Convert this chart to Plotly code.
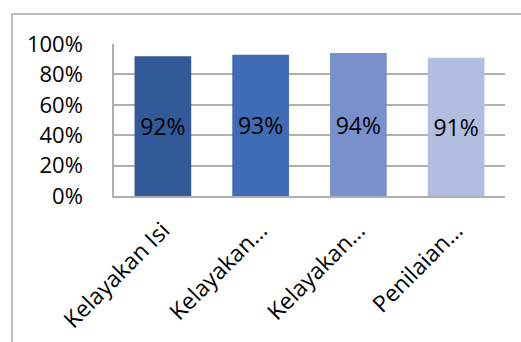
import plotly.graph_objects as go

categories = ["Kelayakan Isi", "Kelayakan…", "Kelayakan…", "Penilaian…"]
values = [0.92, 0.93, 0.94, 0.91]
labels = ["92%", "93%", "94%", "91%"]
colors = ["#325A98", "#3F6BB7", "#7891CD", "#B2BEDF"]
xpos = [0, 1, 2, 3]
ytickvals = [0, 0.2, 0.4, 0.6, 0.8, 1.0]
yticktext = ["0%", "20%", "40%", "60%", "80%", "100%"]

FONT = "Open Sans"
GRID = "#B0B0B0"

fig = go.Figure(go.Bar(
    x=xpos, y=values, marker_color=colors, marker_line_width=0,
    text=labels, textposition="inside", insidetextanchor="middle",
    textfont=dict(family=FONT, size=23, color="black"),
    constraintext="none",
    width=0.58,
))

L, R, T, B = 114, 16, 44, 146
W, H = 521, 342
pw = W - L - R
ph = H - T - B

fig.update_layout(
    width=W, height=H,
    margin=dict(l=L, r=R, t=T, b=B, autoexpand=False),
    paper_bgcolor="white", plot_bgcolor="white",
    showlegend=False,
    font=dict(family=FONT, color="black"),
    xaxis=dict(
        tickmode="array", tickvals=xpos, ticktext=categories,
        range=[-0.5, 3.5], tickangle=-45, showgrid=False,
        showline=True, linecolor=GRID, linewidth=1.5,
        tickfont=dict(family=FONT, size=23, color="black"),
        ticks="", ticklabelstandoff=10, automargin=False,
    ),
    yaxis=dict(
        tickmode="array", tickvals=ytickvals, ticktext=yticktext,
        range=[0, 1.0], showgrid=True, gridcolor=GRID, gridwidth=1.5,
        showline=True, linecolor=GRID, linewidth=1.5, zeroline=False,
        tickfont=dict(family=FONT, size=22, color="black"),
        ticks="", ticklabelstandoff=25, automargin=False,
    ),
    shapes=[dict(
        type="rect", xref="paper", yref="paper",
        x0=(12 - L) / pw, x1=(540 - L) / pw,
        y0=(T + ph - 360) / ph, y1=(T + ph - 14) / ph,
        line=dict(color="#A8A8A8", width=1.5), fillcolor="rgba(0,0,0,0)",
        layer="below",
    )],
)

fig.write_html("out.html")
